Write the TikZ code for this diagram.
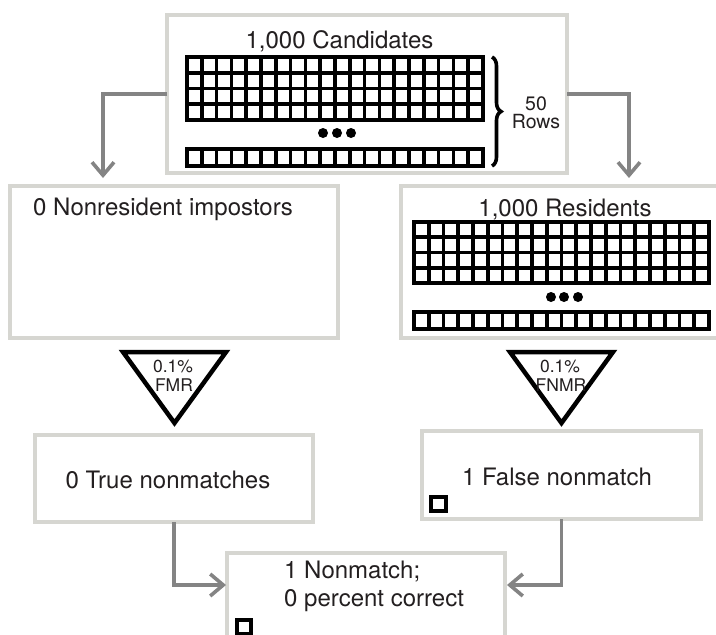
\documentclass[tikz,border=0pt]{standalone}
\usepackage{fontspec}
\setmainfont{TeX Gyre Heros}
\usetikzlibrary{arrows.meta,decorations.pathreplacing}

\definecolor{boxgray}{RGB}{214,214,209}
\definecolor{arrowgray}{RGB}{132,132,132}
\definecolor{ink}{RGB}{35,31,32}

% grid of cells: #1,#2 top-left; #3,#4 bottom-right; #5 columns; #6 rows
\newcommand\cellgrid[6]{%
  \foreach \i in {0,...,#5}
    \draw[gridline] ({#1+\i*(#3-#1)/#5},#2) -- ({#1+\i*(#3-#1)/#5},#4);
  \foreach \j in {0,...,#6}
    \draw[gridline] (#1,{#2+\j*(#4-#2)/#6}) -- (#3,{#2+\j*(#4-#2)/#6});
}

\tikzset{
  panel/.style={draw=boxgray, line width=4.5pt, fill=white, inner sep=0pt, outer sep=0pt},
  flow/.style={draw=arrowgray, line width=3.6pt, -{Straight Barb[length=13pt,width=22pt]}},
  gridline/.style={draw=black, line width=3.6pt, line cap=rect},
  filter/.style={draw=black, line width=4.5pt, fill=white, line join=miter},
  tick/.style={draw=black, line width=4pt},
  bigtext/.style={text=ink, inner sep=0pt, font=\fontsize{24}{28}\selectfont},
  smalltext/.style={text=ink, inner sep=0pt, align=center, font=\fontsize{17.5}{20}\selectfont},
  bracetext/.style={text=ink, inner sep=0pt, align=center, font=\fontsize{19.5}{18}\selectfont},
}

\begin{document}
\begin{tikzpicture}[x=1pt,y=-1pt]
\useasboundingbox (0,0) rectangle (716,635);
\clip (0,0) rectangle (716,635);

% panels
\node[panel, minimum width=400pt, minimum height=158pt] (cand) at (367,94) {};
\node[panel, minimum width=328pt, minimum height=152pt] (imp) at (174,262) {};
\node[panel, minimum width=334pt, minimum height=152pt] (res) at (568,262) {};
\node[panel, minimum width=278pt, minimum height=87pt] (tn) at (174,478.5) {};
\node[panel, minimum width=279pt, minimum height=88pt] (fn) at (561.5,475) {};
\node[panel, minimum width=278pt, minimum height=107pt] (out) at (366,606.5) {};

% candidates
\node[bigtext, anchor=base] (candt) at (339.5,48) {1,000 Candidates};
\cellgrid{187}{57}{483}{120}{20}{4}
\cellgrid{187}{149}{483}{166}{20}{1}
\foreach \x in {323,337,351} \fill[black] (\x,133) circle (5pt);
\draw[black, line width=3.6pt, decorate, decoration={brace, amplitude=9pt}]
  (492,57) -- (492,166);
\node[bracetext, anchor=base] (fifty) at (536,110) {50};
\node[bracetext, anchor=base] (rows) at (536,128) {Rows};

% impostors and residents
\node[bigtext, anchor=base west] (impt) at (33,215) {0 Nonresident impostors};
\node[bigtext, anchor=base] (rest) at (565,216) {1,000 Residents};
\cellgrid{414}{222}{709}{283}{20}{4}
\cellgrid{414}{312}{709}{329}{20}{1}
\foreach \x in {551,564,578} \fill[black] (\x,297) circle (5pt);

% filters
\draw[filter] (123,352) -- (226,352) -- (174.5,423) -- cycle;
\node[smalltext, anchor=base] (fmr1) at (173,372) {0.1\%};
\node[smalltext, anchor=base] (fmr2) at (174,391) {FMR};
\draw[filter] (510,352) -- (613,352) -- (561.5,423) -- cycle;
\node[smalltext, anchor=base] (fnmr1) at (560,372) {0.1\%};
\node[smalltext, anchor=base] (fnmr2) at (561,391) {FNMR};

% outcomes
\node[bigtext, anchor=base] (tnt) at (168,488) {0 True nonmatches};
\node[bigtext, anchor=base] (fnt) at (557,485) {1 False nonmatch};
\draw[tick] (431,497) rectangle (446,511);
\node[bigtext, anchor=base west] (outa) at (284,578) {1 Nonmatch;};
\node[bigtext, anchor=base west] (outb) at (284,606) {0 percent correct};
\draw[tick] (237,620) rectangle (251,634);

% connectors
\coordinate (impin) at (103,178);
\coordinate (resin) at (629,178);
\coordinate (outl) at (226,585);
\coordinate (outr) at (507,585);
\draw[flow] (cand.west) -| (impin);
\draw[flow] (cand.east) -| (resin);
\draw[flow] (tn.south) |- (outl);
\draw[flow] (fn.south) |- (outr);
\end{tikzpicture}
\end{document}
